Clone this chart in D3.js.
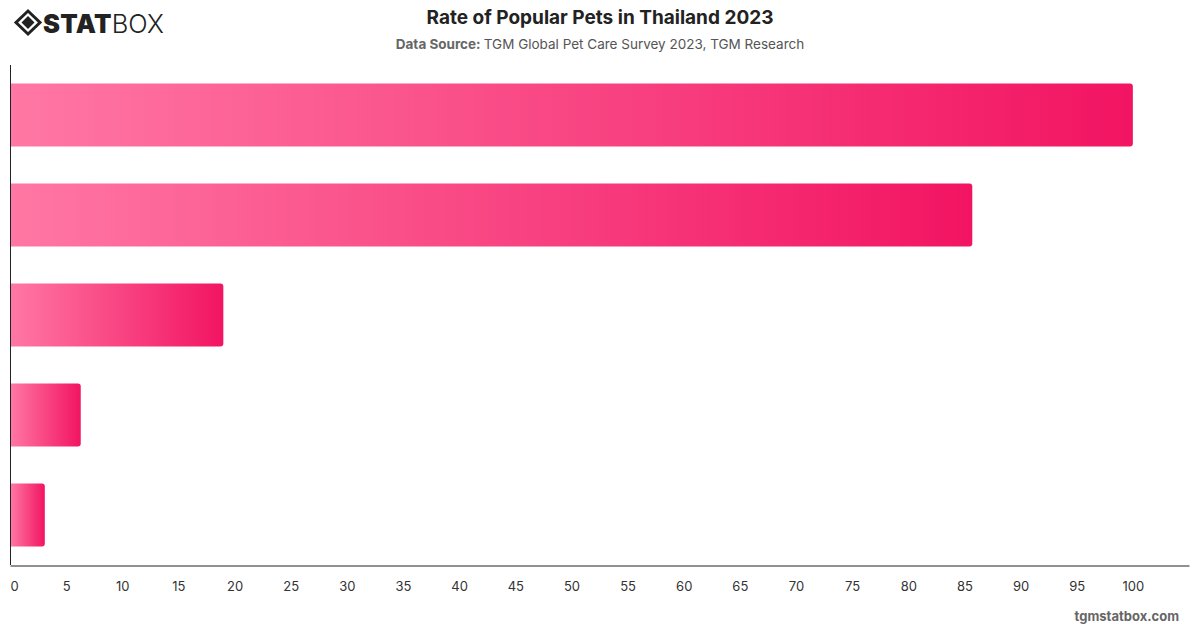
<!DOCTYPE html>
<html>
<head>
<meta charset="utf-8">
<script src="https://cdn.jsdelivr.net/npm/d3@7"></script>
<style>
  body { margin: 0; background: #fff; }
  svg { font-family: Inter, "Noto Sans", sans-serif; }
</style>
</head>
<body>
<div id="chart"></div>
<script>
// pets (category names are not shown on the chart)
const categories = ["Dog", "Cat", "Fish", "Bird", "Rabbit"]
const values = [100, 85.7, 19, 6.3, 3.1]
const tickValues = d3.range(0, 101, 5)

const width = 1200
const height = 628
const margin = { top: 65, right: 11, bottom: 63, left: 10 }

const svg = d3.select("#chart")
    .append("svg")
    .attr("width", width)
    .attr("height", height)

const defs = svg.append("defs")
const grad = defs.append("linearGradient")
    .attr("id", "barGrad")
    .attr("x1", "0%").attr("x2", "100%")
    .attr("y1", "0%").attr("y2", "0%")
grad.append("stop").attr("offset", "0%").attr("stop-color", "#ff77a4")
grad.append("stop").attr("offset", "100%").attr("stop-color", "#f21462")

const x = d3.scaleLinear()
    .domain([0, 105])
    .range([margin.left, width - margin.right])

const y = d3.scaleBand()
    .domain(categories)
    .range([margin.top, height - margin.bottom])
    .paddingInner(0.37)
    .paddingOuter(0.185)

// bars with slightly rounded right end
const r = 3
svg.append("g")
    .selectAll("path")
    .data(values)
    .join("path")
    .attr("fill", "url(#barGrad)")
    .attr("d", (d, i) => {
        const x0 = x(0) + 0.5, x1 = x(d), y0 = y(categories[i]), h = y.bandwidth()
        return `M${x0},${y0}H${x1 - r}Q${x1},${y0} ${x1},${y0 + r}V${y0 + h - r}Q${x1},${y0 + h} ${x1 - r},${y0 + h}H${x0}Z`
    })

// axes
svg.append("line")
    .attr("x1", x(0) + 0.5).attr("x2", x(0) + 0.5)
    .attr("y1", margin.top).attr("y2", height - margin.bottom)
    .attr("stroke", "#222").attr("stroke-width", 1)

const xAxis = svg.append("g")
    .attr("transform", `translate(0,${height - margin.bottom + 0.5})`)
    .call(d3.axisBottom(x).tickValues(tickValues).tickSize(0).tickPadding(16))
xAxis.select(".domain").attr("stroke", "#222")
xAxis.selectAll("text")
    .attr("fill", "#333")
    .style("font-size", "13px")
    .style("font-family", "Inter, 'Noto Sans', sans-serif")
xAxis.selectAll(".tick").filter(d => d === 0).select("text").attr("dx", 4)

// title and source
svg.append("text")
    .attr("x", 600).attr("y", 24)
    .attr("text-anchor", "middle")
    .attr("fill", "#222")
    .style("font-size", "19px")
    .style("font-weight", 700)
    .text("Rate of Popular Pets in Thailand 2023")

const src = svg.append("text")
    .attr("x", 600).attr("y", 49)
    .attr("text-anchor", "middle")
    .style("font-size", "13.5px")
src.append("tspan").attr("fill", "#666").style("font-weight", 700).text("Data Source: ")
src.append("tspan").attr("fill", "#555").text("TGM Global Pet Care Survey 2023, TGM Research")

// watermark
svg.append("text")
    .attr("x", 1179).attr("y", 621)
    .attr("text-anchor", "end")
    .attr("fill", "#666")
    .style("font-size", "13px")
    .style("font-weight", 700)
    .text("tgmstatbox.com")

// logo
const logo = svg.append("g").attr("transform", "translate(15,10)")
logo.append("path")
    .attr("d", "M13,1 L25,12.5 L13,24 L1,12.5 Z")
    .attr("fill", "none").attr("stroke", "#222").attr("stroke-width", 3)
logo.append("path")
    .attr("d", "M13,6 L19.5,12.5 L13,19 L6.5,12.5 Z")
    .attr("fill", "#222")
const lt = logo.append("text")
    .attr("x", 28).attr("y", 23)
    .attr("fill", "#222")
    .style("font-size", "25.5px")
lt.append("tspan").style("font-weight", 900).style("letter-spacing", "0.3px").text("STAT")
lt.append("tspan").style("font-weight", 300).text("BOX")
</script>
</body>
</html>
